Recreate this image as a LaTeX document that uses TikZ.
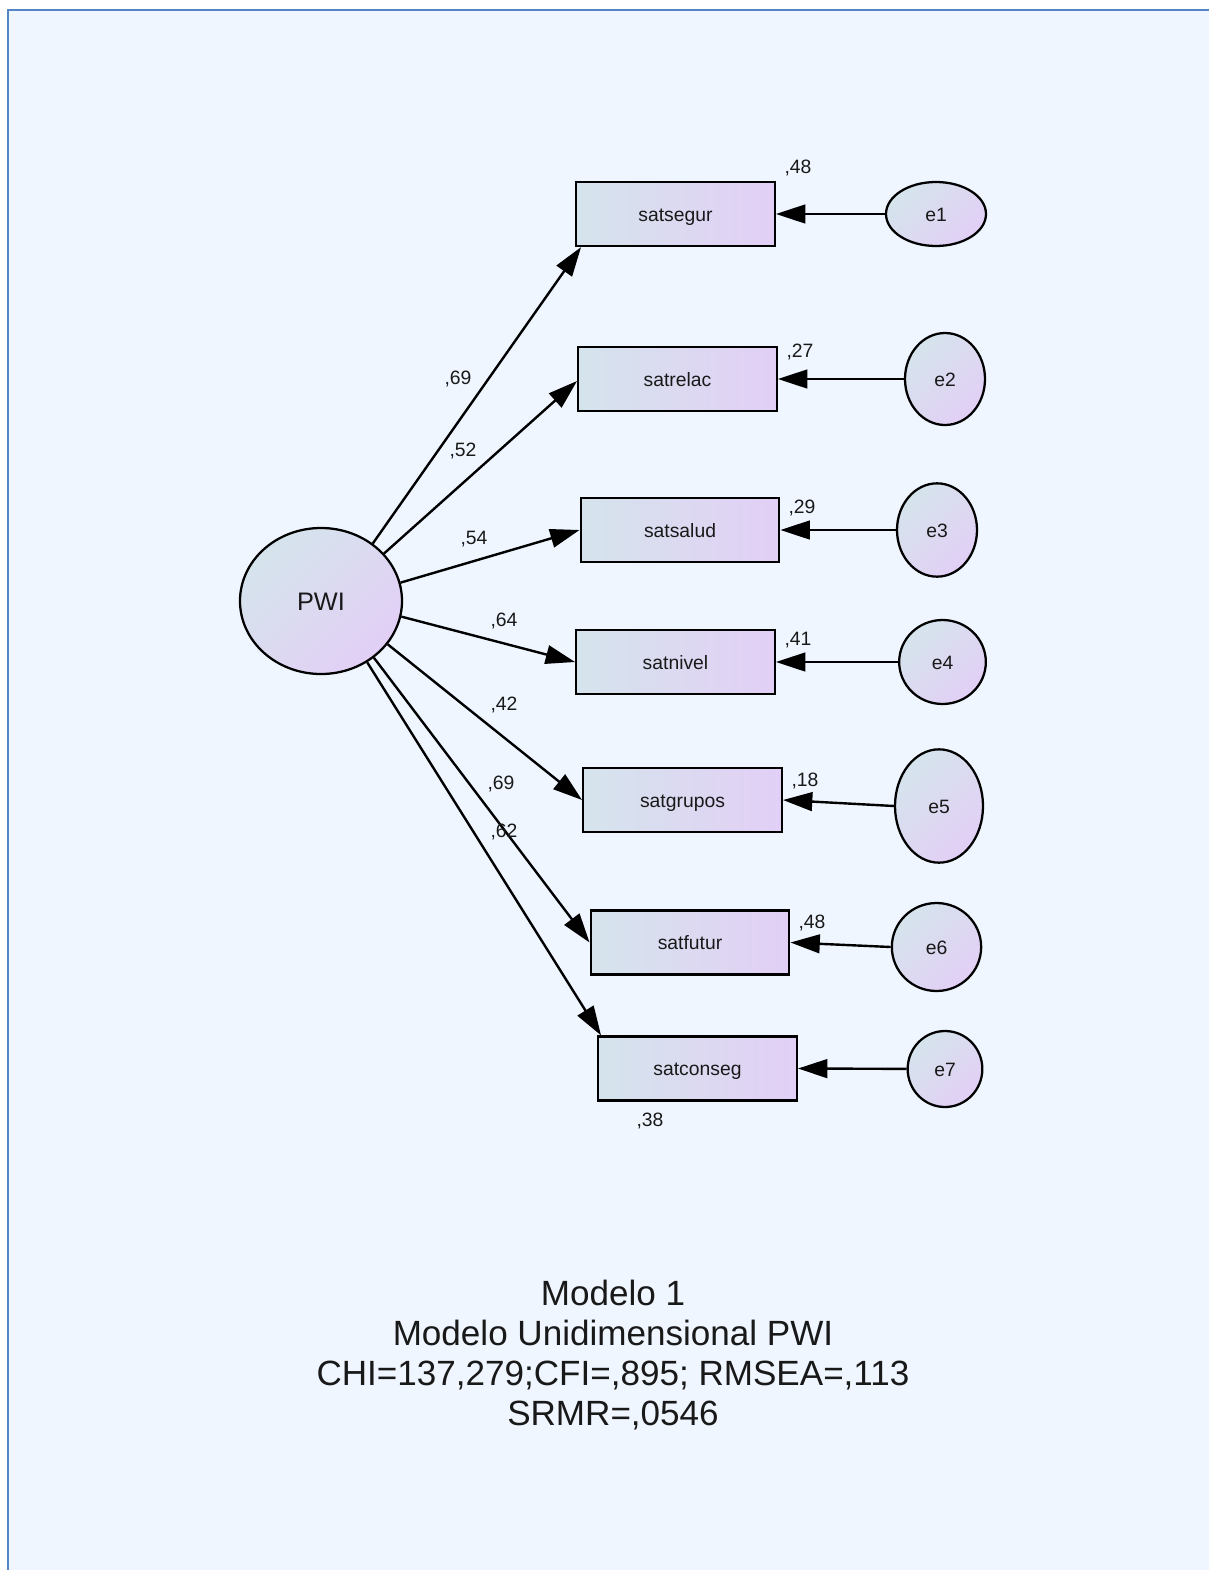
\documentclass[tikz,border=0pt]{standalone}
\usepackage{fontspec}
\setmainfont{Liberation Sans}
\usetikzlibrary{arrows.meta,shapes.geometric}

\definecolor{canvas}{RGB}{239,246,255}
\definecolor{frameblue}{RGB}{84,133,197}
\definecolor{shadeA}{RGB}{213,228,236}
\definecolor{shadeB}{RGB}{226,207,246}
\definecolor{ink}{RGB}{25,25,25}

\tikzset{
  obsvar/.style={draw, line width=1.7pt, rectangle, inner sep=0pt,
    minimum width=149pt, minimum height=48pt,
    text height=11pt, text depth=0pt,
    top color=shadeA, bottom color=shadeB, shading angle=90,
    text=ink, font=\fontsize{14.5}{16}\selectfont},
  latvar/.style={draw, line width=1.7pt, ellipse, inner sep=0pt,
    text height=11pt, text depth=0pt,
    top color=shadeA, bottom color=shadeB, shading angle=45,
    text=ink, font=\fontsize{14.5}{16}\selectfont},
  loading/.style={line width=1.8pt, -{Triangle[length=22pt,width=14pt]}},
  coef/.style={inner sep=0pt, text=ink, font=\fontsize{14.5}{16}\selectfont},
}

\begin{document}
\begin{tikzpicture}[x=0.75pt,y=-0.75pt]
  % page and frame
  \useasboundingbox (0,0) rectangle (1209,1570);
  \fill[white] (0,0) rectangle (1209,1570);
  \fill[canvas] (8,10) rectangle (1209,1570);
  \draw[frameblue, line width=1.6pt] (8,1580) -- (8,10) -- (1220,10);

  % latent factor
  \node[latvar, minimum width=121.5pt, minimum height=109.5pt,
        text height=13.6pt, font=\fontsize{19}{21}\selectfont] (PWI) at (321,601) {PWI};

  % observed indicators
  \node[obsvar] (satsegur)  at (675.5,214)  {satsegur};
  \node[obsvar] (satrelac)  at (677.5,379)  {satrelac};
  \node[obsvar] (satsalud)  at (680,530)    {satsalud};
  \node[obsvar] (satnivel)  at (675.5,662)  {satnivel};
  \node[obsvar] (satgrupos) at (682.5,800)  {satgrupos};
  \node[obsvar] (satfutur)  at (690,942.5)  {satfutur};
  \node[obsvar] (satconseg) at (697.5,1068.5) {satconseg};

  % error terms
  \node[latvar, minimum width=75pt, minimum height=48pt] (e1) at (936,214) {e1};
  \node[latvar, minimum width=60pt, minimum height=69pt] (e2) at (945,379) {e2};
  \node[latvar, minimum width=60pt, minimum height=70pt] (e3) at (937,530) {e3};
  \node[latvar, minimum width=65pt, minimum height=63pt] (e4) at (942.5,662) {e4};
  \node[latvar, minimum width=66pt, minimum height=85pt] (e5) at (939,806) {e5};
  \node[latvar, minimum width=67pt, minimum height=66pt] (e6) at (936.5,947) {e6};
  \node[latvar, minimum width=56pt, minimum height=57pt] (e7) at (945,1069) {e7};

  % factor loadings
  \draw[loading] (PWI.48.8)  -- ([xshift=4.5pt]satsegur.south west);
  \draw[loading] (PWI.37.3)  -- ([yshift=-1.5pt]satrelac.west);
  \draw[loading] (PWI.13.6)  -- (satsalud.west);
  \draw[loading] (PWI.-11.4) -- (satnivel.west);
  \draw[loading] (PWI.-33.8) -- (satgrupos.west);
  \draw[loading] (PWI.-47.6) -- (satfutur.west);
  \draw[loading] (PWI.-53.6) -- ([xshift=3pt]satconseg.north west);

  % error paths
  \draw[loading] (e1) -- (satsegur.east);
  \draw[loading] (e2) -- (satrelac.east);
  \draw[loading] (e3) -- (satsalud.east);
  \draw[loading] (e4) -- (satnivel.east);
  \draw[loading] (e5.west) -- (satgrupos.east);
  \draw[loading] (e6.west) -- (satfutur.east);
  \draw[loading] (e7) -- (satconseg.east);

  % standardized loadings
  \node[coef] (l1) at (458,379) {,69};
  \node[coef] (l2) at (463,451) {,52};
  \node[coef] (l3) at (474,539) {,54};
  \node[coef] (l4) at (504,621) {,64};
  \node[coef] (l5) at (504,705) {,42};
  \node[coef] (l6) at (501,784) {,69};
  \node[coef] (l7) at (504,832) {,62};

  % squared multiple correlations
  \node[coef] (r1) at (798,168)  {,48};
  \node[coef] (r2) at (800,352)  {,27};
  \node[coef] (r3) at (802,508)  {,29};
  \node[coef] (r4) at (798,640)  {,41};
  \node[coef] (r5) at (805,781)  {,18};
  \node[coef] (r6) at (812,923)  {,48};
  \node[coef] (r7) at (650,1121) {,38};

  % model caption
  \node[align=center, text=ink, inner sep=0pt,
        font=\fontsize{26.3}{30}\selectfont] (caption) at (613,1355)
    {Modelo 1\\Modelo Unidimensional PWI\\CHI=137,279;CFI=,895; RMSEA=,113\\SRMR=,0546};
\end{tikzpicture}
\end{document}
